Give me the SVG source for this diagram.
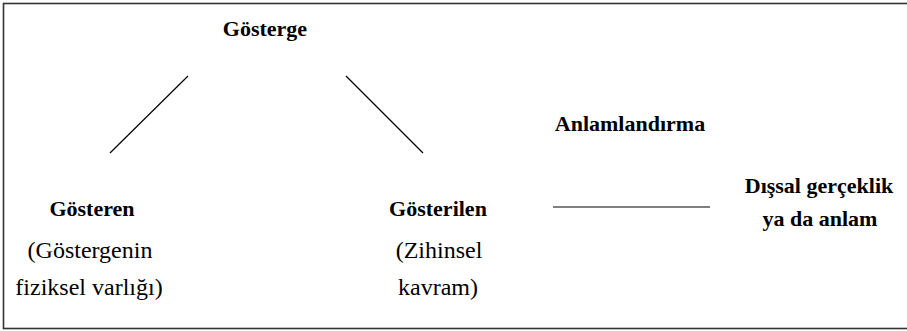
<svg xmlns="http://www.w3.org/2000/svg" width="907" height="331" viewBox="0 0 907 331">
<style>
.b{font-weight:bold;font-size:22px;fill:#000;text-anchor:middle}
.r{font-size:24px;fill:#000;text-anchor:middle}
.c{stroke:#000;stroke-width:1.2;fill:none}
</style>
<rect x="0" y="0" width="907" height="331" fill="#fff"/>
<rect x="3.5" y="3.5" width="910" height="325" fill="none" stroke="#333" stroke-width="1.6"/>
<g id="connectors">
<line class="c" x1="110" y1="153" x2="188" y2="76"/>
<line class="c" x1="346" y1="76" x2="423" y2="153"/>
<line class="c" x1="553" y1="207" x2="710" y2="207"/>
</g>
<g id="gosterge"><text class="b" font-family="Liberation Serif" x="265" y="36">Gösterge</text></g>
<g id="gosteren">
<text class="b" font-family="Liberation Serif" x="92" y="216">Gösteren</text>
<text class="r" font-family="Liberation Serif" x="90" y="258">(Göstergenin</text>
<text class="r" font-family="Liberation Serif" x="89" y="295">fiziksel varlığı)</text>
</g>
<g id="gosterilen">
<text class="b" font-family="Liberation Serif" x="438" y="216">Gösterilen</text>
<text class="r" font-family="Liberation Serif" x="439" y="258">(Zihinsel</text>
<text class="r" font-family="Liberation Serif" x="438" y="295">kavram)</text>
</g>
<g id="anlamlandirma"><text class="b" font-family="Liberation Serif" x="630" y="131">Anlamlandırma</text></g>
<g id="dissal">
<text class="b" font-family="Liberation Serif" x="819" y="193">Dışsal gerçeklik</text>
<text class="b" font-family="Liberation Serif" x="820" y="226">ya da anlam</text>
</g>
</svg>
